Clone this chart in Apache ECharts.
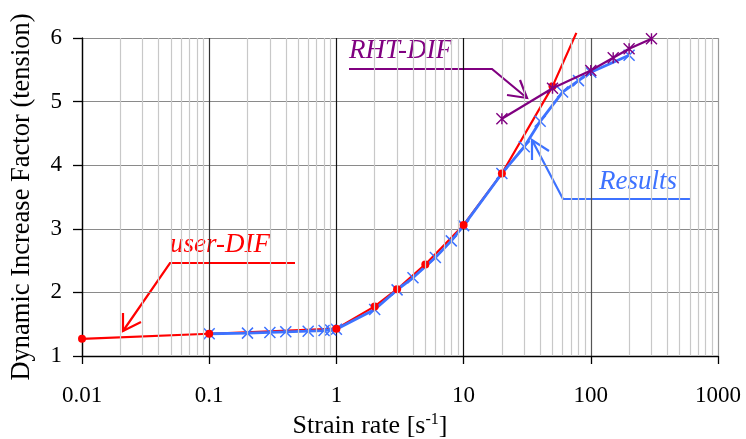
<!DOCTYPE html>
<html>
<head>
<meta charset="utf-8">
<script src="https://cdn.jsdelivr.net/npm/echarts@6/dist/echarts.min.js"></script>
<style>
html,body{margin:0;padding:0;background:#fff;}
#chart{width:746px;height:439px;}
</style>
</head>
<body>
<div id="chart"></div>
<script>
// 数据
const userX = [0.01, 0.1, 1, 2, 3, 5, 10, 20, 50, 77]
const userY = [1.27, 1.35, 1.43, 1.78, 2.05, 2.44, 3.06, 3.87, 5.24, 6.08]

const resX = [0.1, 0.2, 0.3, 0.4, 0.6, 0.8, 0.9, 1, 2, 3, 4, 6, 8, 10, 20, 30, 40, 60, 80, 100, 200]
const resY = [1.35, 1.36, 1.37, 1.38, 1.39, 1.40, 1.41, 1.42, 1.73, 2.04, 2.23, 2.55, 2.81, 3.05, 3.87, 4.29, 4.69, 5.15, 5.33, 5.46, 5.73]

const rhtX = [20, 50, 100, 150, 200, 300]
const rhtY = [4.73, 5.21, 5.49, 5.69, 5.83, 5.99]

const xTicks = [0.01, 0.1, 1, 10, 100, 1000]
const yTicks = [1, 2, 3, 4, 5, 6]
// 次网格线的倍数
const minorMult = [2, 3, 4, 5, 6, 7, 8, 9]

const zip = (xs, ys) => xs.map((x, i) => [x, ys[i]])

const chart = echarts.init(document.getElementById('chart'))
const serif = 'Liberation Serif'
const RED = '#ff0000', BLUE = '#3d72ff', PURPLE = '#800080'
const noteFont = 'italic 27px "Liberation Serif"'

// 次网格线
const minorLines = []
xTicks.slice(0, -1).forEach(d => {
    minorMult.forEach(m => minorLines.push({ xAxis: d * m }))
})

// user-DIF 的最后一点只连线、不画圆点
const userPts = zip(userX, userY)
const userMarks = userPts.slice(0, -1)

const option = {
    animation: false,
    grid: { left: 82, right: 28, top: 38, bottom: 83, show: false, outerBoundsMode: 'none', containLabel: false },
    xAxis: {
        type: 'log',
        logBase: 10,
        min: xTicks[0],
        max: xTicks[xTicks.length - 1],
        name: '{a|Strain rate [s}{s|-1}{a|]}',
        nameLocation: 'middle',
        nameGap: 55,
        nameTextStyle: {
            padding: [0, 60, 0, 0],
            rich: {
                a: { fontFamily: serif, fontSize: 26, color: '#000' },
                s: { fontFamily: serif, fontSize: 16, color: '#000', verticalAlign: 'top', padding: [0, 0, 12, 0] }
            }
        },
        axisLine: { lineStyle: { color: '#000', width: 1.3 } },
        axisTick: { show: true, inside: false, length: 8, lineStyle: { color: '#000', width: 1.3 } },
        axisLabel: {
            fontFamily: serif, fontSize: 23, color: '#000', margin: 28,
            formatter: v => String(+(+v).toPrecision(3))
        },
        splitLine: {
            show: true,
            lineStyle: { color: ['#000', '#333', '#111', '#111', '#555', '#999'], width: 1.2 }
        }
    },
    yAxis: {
        type: 'value',
        min: yTicks[0],
        max: yTicks[yTicks.length - 1],
        interval: 1,
        name: 'Dynamic Increase Factor (tension)',
        nameLocation: 'middle',
        nameGap: 46,
        nameTextStyle: { fontFamily: serif, fontSize: 26.5, color: '#000' },
        axisLine: { show: true, lineStyle: { color: '#000', width: 1.3 } },
        axisTick: { show: true, inside: false, length: 9, lineStyle: { color: '#000', width: 1.3 } },
        axisLabel: { fontFamily: serif, fontSize: 23, color: '#000', margin: 20 },
        splitLine: { show: true, lineStyle: { color: '#8a8a8a', width: 1.2 } }
    },
    series: [
        {
            // 次网格线
            type: 'line',
            data: [],
            silent: true,
            markLine: {
                silent: true,
                symbol: 'none',
                label: { show: false },
                lineStyle: { color: '#c8c8c8', type: 'solid', width: 1.2 },
                data: minorLines
            }
        },
        {
            name: 'user-DIF',
            type: 'line',
            data: userPts,
            clip: false,
            symbol: 'none',
            lineStyle: { color: RED, width: 2.2 },
            z: 3
        },
        {
            name: 'Results',
            type: 'line',
            data: zip(resX, resY),
            symbol: 'path://M0,0L10,10M10,0L0,10',
            symbolSize: 11,
            itemStyle: { color: 'none', borderColor: BLUE, borderWidth: 1.5 },
            lineStyle: { color: BLUE, width: 2.8 },
            z: 4
        },
        {
            // user-DIF 圆点（画在蓝线上方）
            name: 'user-DIF',
            type: 'scatter',
            data: userMarks,
            symbol: 'circle',
            symbolSize: 8,
            itemStyle: { color: RED, opacity: 1 },
            z: 4.5
        },
        {
            name: 'RHT-DIF',
            type: 'line',
            data: zip(rhtX, rhtY),
            clip: false,
            symbol: 'path://M0,0L10,10M10,0L0,10M5,0L5,10',
            symbolSize: 11,
            itemStyle: { color: 'none', borderColor: PURPLE, borderWidth: 1.4 },
            lineStyle: { color: PURPLE, width: 2.2 },
            z: 5
        }
    ],
    graphic: [
        // RHT-DIF 标注
        { type: 'text', left: 349, top: 37, style: { text: 'RHT-DIF', font: noteFont, fill: PURPLE } },
        { type: 'polyline', shape: { points: [[349, 69], [492, 69], [527, 98]] }, style: { stroke: PURPLE, lineWidth: 2.2, fill: 'none' } },
        { type: 'polyline', shape: { points: [[520, 80], [527, 98], [507, 95]] }, style: { stroke: PURPLE, lineWidth: 2.2, fill: 'none' } },
        // Results 标注
        { type: 'text', left: 599, top: 168, style: { text: 'Results', font: noteFont, fill: BLUE } },
        { type: 'polyline', shape: { points: [[690, 199], [563, 199], [532, 140]] }, style: { stroke: BLUE, lineWidth: 2.2, fill: 'none' } },
        { type: 'polyline', shape: { points: [[532, 160], [532, 140], [549, 151]] }, style: { stroke: BLUE, lineWidth: 2.2, fill: 'none' } },
        // user-DIF 标注
        { type: 'text', left: 170, top: 231, style: { text: 'user-DIF', font: noteFont, fill: RED } },
        { type: 'polyline', shape: { points: [[295, 263], [170, 263], [123, 331]] }, style: { stroke: RED, lineWidth: 2.2, fill: 'none' } },
        { type: 'polyline', shape: { points: [[123, 313], [123, 331], [141, 322]] }, style: { stroke: RED, lineWidth: 2.2, fill: 'none' } }
    ]
}
chart.setOption(option)
</script>
</body>
</html>
